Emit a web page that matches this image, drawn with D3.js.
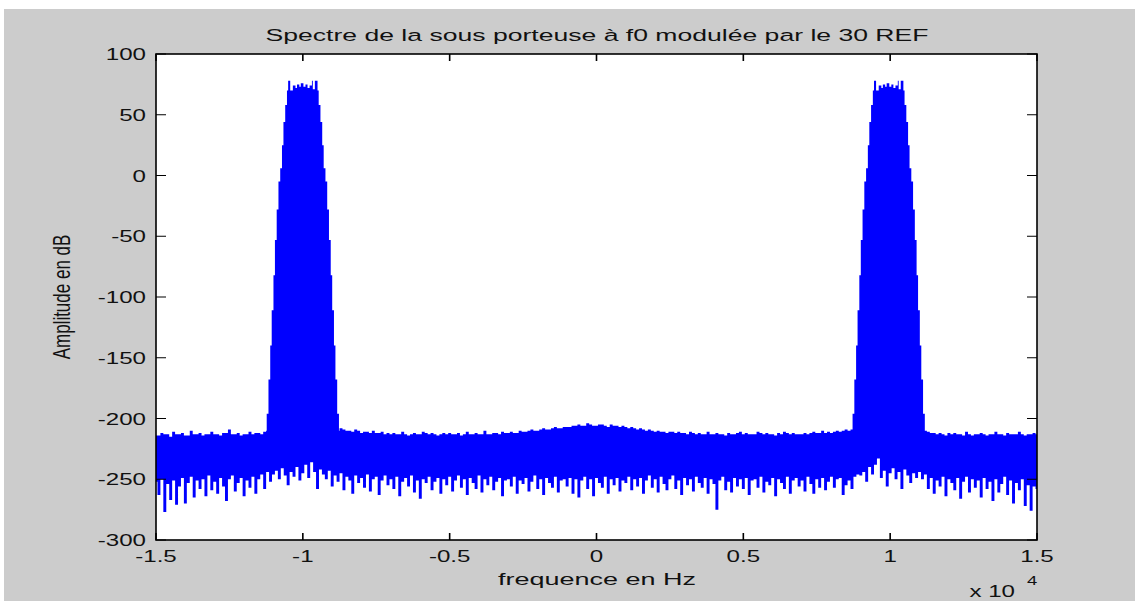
<!DOCTYPE html>
<meta charset="utf-8">
<style>
    body {
        margin: 0;
        background: #ffffff;
    }

    svg {
        display: block;
    }

    text {
        font-family: "Liberation Sans", Arial, sans-serif;
        fill: #111111;
    }
</style>

<body>
    <svg width="1135" height="601"></svg>
    <script src="https://d3js.org/d3.v7.min.js"></script>
    <script>
        var titleText = "Spectre de la sous porteuse à f0 modulée par le 30 REF";
        var xLabelText = "frequence en Hz";
        var yLabelText = "Amplitude en dB";
        var xExponent = "4";

        var xTicks = [-1.5, -1, -0.5, 0, 0.5, 1, 1.5];
        var yTicks = [100, 50, 0, -50, -100, -150, -200, -250, -300];

        // noise floor, one sample every 0.01 (x 10^4 Hz) from -1.5
        var noiseStart = -1.5,
            noiseStep = 0.01;

        // upper edge of the noise band (dB)
        var noiseTop = [
            -214, -214, -212, -213, -213, -215, -211, -213, -213, -212, -214, -214, -210, -213, -213, -212, -214, -213, -213, -211,
            -213, -213, -214, -212, -212, -209, -213, -213, -212, -214, -213, -213, -211, -213, -212, -212, -213, -211, -210, -211,
            -210, -210, -210, -210, -210, -210, -210, -210, -210, -210, -210, -210, -210, -210, -210, -210, -210, -210, -210, -210,
            -210, -210, -210, -208, -209, -210, -210, -211, -209, -210, -212, -211, -211, -212, -210, -212, -212, -211, -213, -212,
            -213, -212, -213, -213, -211, -213, -214, -213, -212, -213, -213, -211, -212, -213, -212, -213, -214, -213, -212, -213,
            -212, -213, -213, -212, -214, -213, -211, -213, -213, -212, -213, -213, -210, -213, -213, -212, -212, -213, -211, -212,
            -212, -211, -212, -212, -210, -211, -211, -210, -209, -210, -210, -209, -208, -209, -209, -208, -207, -208, -208, -207,
            -207, -207, -206, -206, -205, -206, -206, -204, -205, -206, -206, -205, -205, -206, -207, -205, -206, -206, -207, -206,
            -207, -208, -207, -208, -209, -208, -209, -210, -209, -210, -211, -210, -211, -211, -212, -211, -211, -212, -211, -212,
            -212, -213, -211, -212, -213, -212, -213, -213, -211, -213, -213, -212, -213, -213, -214, -212, -213, -213, -212, -211,
            -213, -212, -213, -213, -213, -211, -212, -213, -212, -213, -213, -214, -212, -213, -211, -212, -213, -212, -213, -213,
            -213, -212, -213, -212, -211, -212, -212, -210, -212, -211, -212, -211, -210, -211, -210, -209, -210, -209, -210, -210,
            -210, -210, -210, -210, -210, -210, -210, -210, -210, -210, -210, -210, -210, -210, -210, -210, -210, -210, -210, -210,
            -210, -210, -210, -211, -212, -212, -213, -212, -213, -214, -212, -213, -212, -213, -213, -214, -211, -213, -214, -213,
            -213, -212, -213, -214, -213, -213, -211, -213, -213, -214, -212, -213, -213, -213, -211, -213, -214, -213, -213, -212,
            -213
        ];

        // lower edge of the noise band, spikes included (dB)
        var noiseLow = [
            -252, -263, -250, -277, -254, -267, -251, -271, -256, -249, -270, -253, -248, -265, -251, -258, -250, -264, -247, -259,
            -252, -262, -249, -256, -268, -250, -247, -260, -253, -249, -264, -251, -257, -248, -262, -250, -246, -258, -244, -252,
            -246, -243, -250, -241, -247, -255, -244, -248, -240, -251, -245, -238, -249, -236, -244, -258, -242, -246, -250, -243,
            -256, -247, -252, -245, -259, -248, -251, -262, -247, -253, -249, -257, -246, -260, -250, -248, -263, -251, -247, -255,
            -250, -258, -248, -264, -252, -249, -256, -247, -261, -251, -266, -250, -253, -248, -259, -252, -249, -262, -250, -255,
            -248, -260, -251, -247, -257, -250, -263, -249, -253, -258, -247, -261, -250, -255, -248, -259, -252, -249, -264, -251,
            -250, -256, -248, -262, -251, -254, -249, -260, -252, -247, -258, -250, -263, -249, -253, -257, -248, -261, -251, -250,
            -256, -249, -262, -250, -265, -251, -248, -258, -250, -264, -249, -253, -257, -248, -262, -250, -255, -249, -260, -251,
            -253, -248, -259, -250, -256, -249, -262, -251, -247, -257, -250, -261, -248, -254, -259, -250, -247, -258, -251, -263,
            -249, -255, -250, -260, -248, -253, -257, -249, -262, -250, -254, -275, -251, -248, -259, -252, -261, -249, -256, -250,
            -258, -249, -263, -251, -250, -257, -248, -261, -252, -255, -249, -264, -250, -253, -258, -248, -262, -251, -249, -256,
            -251, -260, -248, -254, -262, -250, -257, -249, -259, -252, -248, -257, -250, -249, -263, -255, -251, -258, -248, -246,
            -247, -244, -252, -240, -246, -238, -233, -249, -243, -256, -245, -241, -250, -244, -258, -242, -247, -253, -245, -249,
            -244, -250, -246, -258, -249, -262, -251, -256, -248, -264, -250, -253, -259, -249, -266, -252, -248, -261, -250, -257,
            -251, -265, -249, -258, -252, -268, -250, -261, -254, -248, -263, -251, -270, -253, -259, -250, -272, -255, -276, -256,
            -258
        ];

        // the two modulated lobes (centres in x 10^4 Hz)
        var peakCenters = [-1.0, 0.995];
        // staircase flanks: level where each step starts (dB) and its half width
        var peakLevels = [78, 70, 58, 44, 25, 6, -5, -28, -53, -82, -111, -140, -168, -196, -222];
        var peakHalfWidths = [0.050, 0.054, 0.060, 0.066, 0.071, 0.077, 0.083, 0.089, 0.095, 0.100, 0.106, 0.111, 0.117, 0.123];
        // flat top of each lobe, edges are offsets from the centre
        var crownEdges = [-0.050, -0.043, -0.034, -0.025, -0.020, -0.012, -0.007, 0.002, 0.009, 0.016, 0.023, 0.031, 0.034, 0.041, 0.050];
        var crownLevels = [78, 70, 74, 72, 75, 73, 76, 73, 75, 72, 74, 78, 71, 78];

        var svg = d3.select("svg"),
            width = +svg.attr("width"),
            height = +svg.attr("height");

        var plot = { left: 156, right: 1037, top: 54, bottom: 540 };
        var blue = "#0000ff";
        var textScale = 1.42; // the picture is stretched sideways, so is its text
        var fontSize = 17;

        // grey figure, white strip on top and left as in the screenshot
        svg.append("rect")
            .attr("width", width)
            .attr("height", height)
            .attr("fill", "#ffffff");
        svg.append("rect")
            .attr("x", 4)
            .attr("y", 9)
            .attr("width", width - 4)
            .attr("height", height - 9)
            .attr("fill", "#cccccc");

        var x = d3.scaleLinear()
            .domain([-1.5, 1.5])
            .range([plot.left, plot.right]);

        var y = d3.scaleLinear()
            .domain([-300, 100])
            .range([plot.bottom, plot.top]);

        svg.append("defs").append("clipPath")
            .attr("id", "clip")
            .append("rect")
            .attr("x", plot.left)
            .attr("y", plot.top)
            .attr("width", plot.right - plot.left)
            .attr("height", plot.bottom - plot.top);

        svg.append("rect")
            .attr("x", plot.left)
            .attr("y", plot.top)
            .attr("width", plot.right - plot.left)
            .attr("height", plot.bottom - plot.top)
            .attr("fill", "#ffffff");

        var data = svg.append("g").attr("clip-path", "url(#clip)");

        // noise band
        var noise = noiseTop.map(function(d, i) {
            return { f: noiseStart + i * noiseStep, top: d, low: noiseLow[i] };
        });

        var band = d3.area()
            .curve(d3.curveStep)
            .x(function(d) { return x(d.f); })
            .y0(function(d) { return y(d.low); })
            .y1(function(d) { return y(d.top); });

        data.append("path")
            .datum(noise)
            .attr("d", band)
            .attr("fill", blue);

        // lobes, built as a polygon from the staircase and crown tables
        function lobeOutline(c) {
            var pts = [];
            var n = peakHalfWidths.length;
            for (var i = 0; i < n; i++) {
                pts.push([c - peakHalfWidths[i], peakLevels[i]]);
                pts.push([c - peakHalfWidths[i], peakLevels[i + 1]]);
            }
            for (var j = n - 1; j >= 0; j--) {
                pts.push([c + peakHalfWidths[j], peakLevels[j + 1]]);
                pts.push([c + peakHalfWidths[j], peakLevels[j]]);
            }
            for (var k = crownLevels.length - 1; k >= 0; k--) {
                pts.push([c + crownEdges[k + 1], crownLevels[k]]);
                pts.push([c + crownEdges[k], crownLevels[k]]);
            }
            return pts;
        }

        var outline = d3.line()
            .x(function(d) { return x(d[0]); })
            .y(function(d) { return y(d[1]); });

        data.selectAll(".lobe")
            .data(peakCenters)
            .enter().append("path")
            .attr("class", "lobe")
            .attr("d", function(c) { return outline(lobeOutline(c)) + "Z"; })
            .attr("fill", blue);

        // axes box with inward ticks on all four sides
        var axes = svg.append("g");

        axes.append("rect")
            .attr("x", plot.left)
            .attr("y", plot.top)
            .attr("width", plot.right - plot.left)
            .attr("height", plot.bottom - plot.top)
            .attr("fill", "none")
            .attr("stroke", "#000000")
            .attr("stroke-width", 1.6);

        axes.selectAll(".xtick")
            .data(xTicks)
            .enter().append("path")
            .attr("class", "xtick")
            .attr("d", function(d) {
                var px = x(d);
                return "M" + px + "," + plot.bottom + "V" + (plot.bottom - 7) +
                    "M" + px + "," + plot.top + "V" + (plot.top + 7);
            })
            .attr("stroke", "#000000")
            .attr("stroke-width", 1.6);

        axes.selectAll(".ytick")
            .data(yTicks)
            .enter().append("path")
            .attr("class", "ytick")
            .attr("d", function(d) {
                var py = y(d);
                return "M" + plot.left + "," + py + "H" + (plot.left + 10) +
                    "M" + plot.right + "," + py + "H" + (plot.right - 10);
            })
            .attr("stroke", "#000000")
            .attr("stroke-width", 1.2);

        // text helper, stretched horizontally like the source picture
        function addText(px, py, str, anchor, size, rotate) {
            var g = svg.append("g")
                .attr("transform", "translate(" + px + "," + py + ") scale(" + textScale + ",1)" + (rotate ? " rotate(-90)" : ""));
            var t = g.append("text")
                .attr("text-anchor", anchor)
                .attr("font-size", size)
                .text(str);
            return t;
        }

        xTicks.forEach(function(d) {
            addText(x(d), 562, String(d), "middle", fontSize);
        });

        yTicks.forEach(function(d) {
            addText(plot.left - 10, y(d) + 6, String(d), "end", fontSize);
        });

        // the title and x label are a bit more airy than the rest
        addText(597, 41, titleText, "middle", fontSize)
            .attr("textLength", 663 / textScale)
            .attr("lengthAdjust", "spacingAndGlyphs");
        addText(597, 585, xLabelText, "middle", fontSize)
            .attr("textLength", 198 / textScale)
            .attr("lengthAdjust", "spacingAndGlyphs");
        addText(70, (plot.top + plot.bottom) / 2, yLabelText, "middle", fontSize, true);

        addText(1015, 597, "x 10", "end", fontSize);
        addText(1027, 585, xExponent, "start", 13);
    </script>
</body>
